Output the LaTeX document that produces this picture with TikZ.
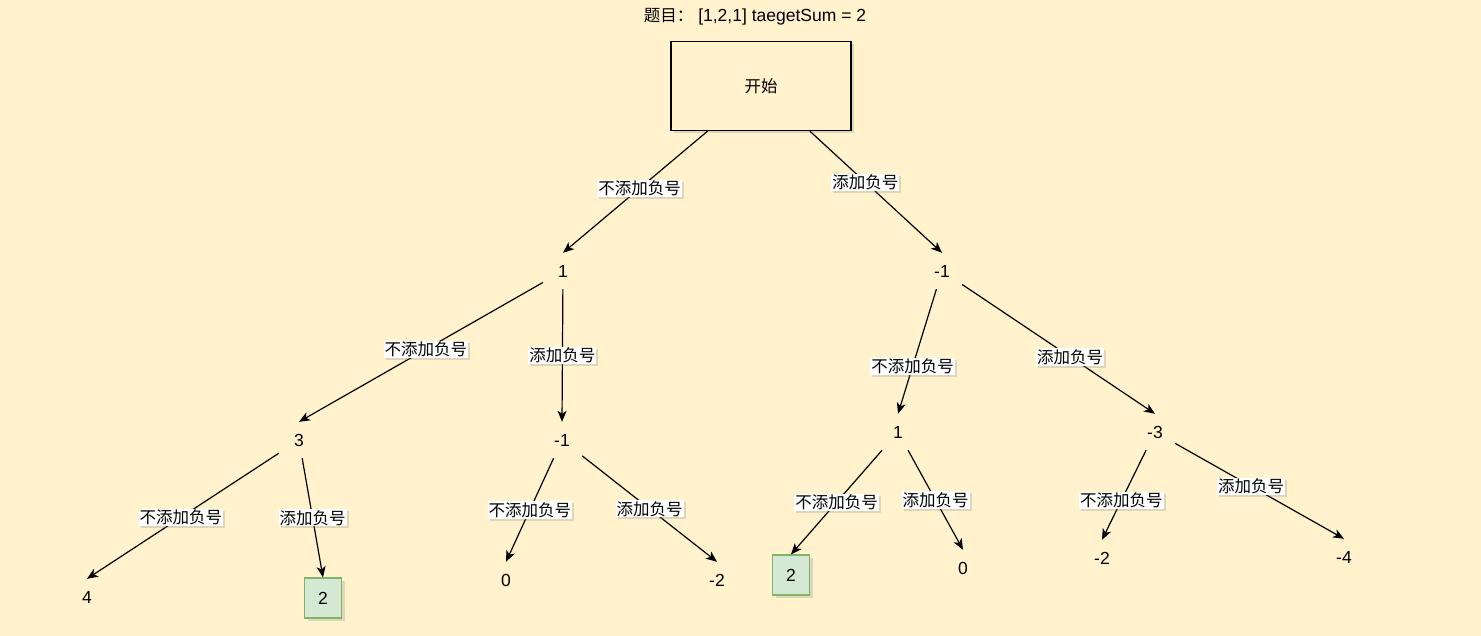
\documentclass[tikz,border=0pt]{standalone}
\usepackage{fontspec}
\setmainfont{Liberation Sans}
\newfontfamily\cjk{Noto Sans CJK SC}
\usepackage{xcolor}
\usetikzlibrary{arrows.meta,positioning,shadows}
\definecolor{bgyellow}{HTML}{FFF2CC}
\definecolor{hitfill}{HTML}{D5E8D4}
\definecolor{hitline}{HTML}{82B366}

\begin{document}
\begin{tikzpicture}[
    x=1pt, y=-1pt,
    font=\fontsize{17.5}{20}\selectfont,
    val/.style={minimum width=40pt, minimum height=36pt, inner sep=0pt},
    hit/.style={rectangle, draw=hitline, fill=hitfill, line width=1.2pt, minimum width=37pt, minimum height=40pt, inner sep=0pt,
        drop shadow={opacity=0.25, shadow xshift=3pt, shadow yshift=-3pt}},
    startbox/.style={rectangle, draw, fill=bgyellow, line width=1.3pt, minimum width=180pt, minimum height=89pt,
        drop shadow={opacity=0.25, shadow xshift=3pt, shadow yshift=-3pt}},
    choice/.style={fill=white, inner sep=1pt, font=\cjk\fontsize{16.5}{19}\selectfont,
        drop shadow={opacity=0.25, shadow xshift=2pt, shadow yshift=-2pt}},
    arrow/.style={-{Stealth[length=11pt, width=9pt, inset=3pt]}, line width=1.2pt}
]
\fill[bgyellow] (0,0) rectangle (1481,636);
\useasboundingbox (0,0) rectangle (1481,636);

\node (title) at (755,17) {{\cjk\fontsize{16.5}{19}\selectfont 题目：} [1,2,1] taegetSum = 2};
\node[startbox, font=\cjk\fontsize{16.5}{19}\selectfont] (start) at (761,86) {开始};

% first number
\node[val] (n1) at (563,271) {1};
\node[val] (nm1) at (942,271) {-1};

% second number
\node[val] (n3) at (299,440) {3};
\node[val] (nm1b) at (562,440) {-1};
\node[val] (n1b) at (898,432) {1};
\node[val] (nm3) at (1155,432) {-3};

% third number
\node[val] (l4) at (87,597) {4};
\node[hit] (l2a) at (323,598) {2};
\node[val] (l0a) at (506,580) {0};
\node[val] (lm2a) at (717,580) {-2};
\node[hit] (l2b) at (791,575) {2};
\node[val] (l0b) at (963,568) {0};
\node[val] (lm2b) at (1102,558) {-2};
\node[val] (lm4) at (1344,557) {-4};

\draw[arrow] (start) -- node[choice, pos=0.47] {不添加负号} (n1.north);
\draw[arrow] (start) -- node[choice, pos=0.42] {添加负号} (nm1.north);

\draw[arrow] (n1) -- node[choice, pos=0.48] {不添加负号} (n3.north);
\draw[arrow] (n1) -- node[choice] {添加负号} (nm1b.north);
\draw[arrow] (nm1) -- node[choice, pos=0.62] {不添加负号} (n1b.north);
\draw[arrow] (nm1) -- node[choice, pos=0.56] {添加负号} (nm3.north);

\draw[arrow] (n3) -- node[choice, pos=0.51] {不添加负号} (l4.north);
\draw[arrow] (n3) -- node[choice] {添加负号} (l2a.north);
\draw[arrow] (nm1b) -- node[choice] {不添加负号} (l0a.north);
\draw[arrow] (nm1b) -- node[choice] {添加负号} (lm2a.north);
\draw[arrow] (n1b) -- node[choice] {不添加负号} (l2b.north);
\draw[arrow] (n1b) -- node[choice] {添加负号} (l0b.north);
\draw[arrow] (nm3) -- node[choice, pos=0.56] {不添加负号} (lm2b.north);
\draw[arrow] (nm3) -- node[choice, pos=0.45] {添加负号} (lm4.north);
\end{tikzpicture}
\end{document}
